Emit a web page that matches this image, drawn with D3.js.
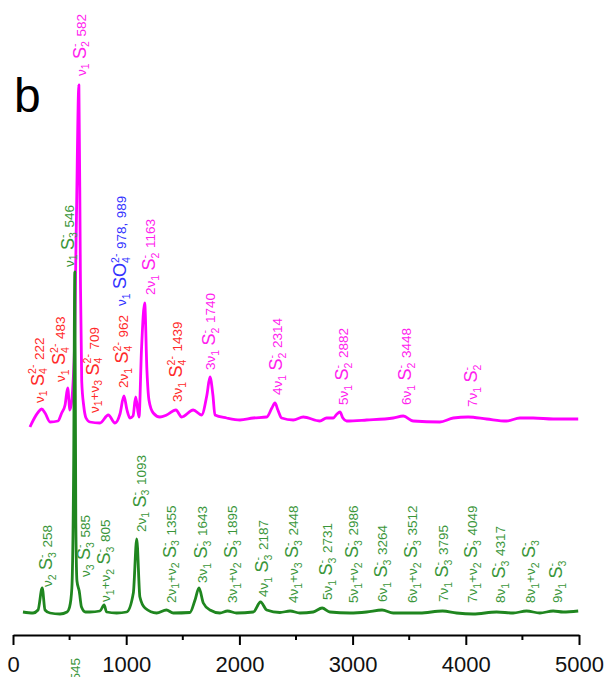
<!DOCTYPE html>
<html>
<head>
<meta charset="utf-8">
<script src="https://cdn.jsdelivr.net/npm/d3@7/dist/d3.min.js"></script>
<style>
  body { margin: 0; background: #fff; }
  svg { display: block; font-family: "Liberation Sans", Arial, sans-serif; }
</style>
</head>
<body>
<div id="chart"></div>
<script>
  // axis ticks
  var xTicks = [0, 1000, 2000, 3000, 4000, 5000];
  var xMinor = [500, 1500, 2500, 3500, 4500];

  // spectrum of the magenta sample is stacked above the green one
  var magOffset = 1920;

  // green spectrum (S3- dominated), raman shift / intensity
  var greenShift = [88, 177, 221, 258, 283, 327, 415, 477, 500, 520, 536, 546, 555, 565, 585, 605, 640,
    680, 768, 805, 827, 916, 1004, 1063, 1093, 1121, 1166, 1269, 1355, 1416, 1563, 1608, 1643, 1681,
    1740, 1828, 1895, 1975, 2122, 2187, 2241, 2358, 2448, 2534, 2652, 2731, 2800, 2977, 3124, 3260,
    3359, 3594, 3795, 3918, 4065, 4272, 4418, 4537, 4654, 4772, 4860, 4993];
  var greenInt = [10, 0, 30, 250, 30, 0, -10, 10, 60, 250, 1500, 3410, 900, 320, 220, 60, 10,
    10, 20, 80, 10, 0, 10, 200, 740, 160, 50, 0, 30, 0, 5, 130, 250, 100,
    30, 0, 20, 0, 10, 110, 30, 5, 20, 0, 10, 50, 10, 0, 10, 30,
    0, 0, 20, 0, -10, 10, 0, 20, 0, 20, 10, 20];

  // magenta spectrum (S2- / S4 2- dominated)
  var magShift = [150, 180, 224, 253, 283, 327, 397, 430, 460, 483, 503, 540, 560, 582, 595, 607, 625, 645,
    680, 768, 842, 901, 945, 980, 1007, 1033, 1060, 1084, 1113, 1135, 1163, 1183, 1201, 1239, 1298,
    1357, 1439, 1490, 1592, 1666, 1713, 1740, 1766, 1784, 1887, 2005, 2122, 2241, 2287, 2314, 2340,
    2373, 2476, 2564, 2711, 2770, 2829, 2862, 2888, 2914, 2947, 3124, 3359, 3448, 3535, 3771, 3889,
    4021, 4184, 4360, 4478, 4595, 4772, 4993];
  var magInt = [-60, 10, 90, 120, 80, -10, 0, 80, 160, 330, 110, 600, 2000, 3360, 1500, 400, 150, 30,
    -10, -20, 60, -20, 70, 250, 110, 30, 50, 240, 40, 710, 1180, 510, 210, 80, 40,
    60, 110, 40, 110, 60, 260, 440, 260, 60, 30, 10, 30, 40, 130, 180, 110,
    30, 10, 40, 0, 30, 30, 70, 90, 30, 0, 10, 30, 50, 0, -10, 30,
    40, 20, 0, 30, 30, 20, 20];

  // peak labels: text, species, x anchor (cm-1), level of label foot (intensity in its own layer)
  var labelText = [
    "ν_1 S_4^2- 222", "ν_1 S_4^2- 483", "ν_1 S_2^- 582", "ν_1+ν_3 S_4^2- 709", "2ν_1 S_4^2- 962",
    "ν_1 SO_4^2- 978, 989", "2ν_1 S_2^- 1163", "3ν_1 S_4^2- 1439", "3ν_1 S_2^- 1740", "4ν_1 S_2^- 2314",
    "5ν_1 S_2^- 2882", "6ν_1 S_2^- 3448", "7ν_1 S_2^-",
    "ν_1 S_3^- 546", "ν_2 S_3^- 258", "ν_3 S_3^- 585", "ν_1+ν_2 S_3^- 805", "2ν_1 S_3^- 1093",
    "2ν_1+ν_2 S_3^- 1355", "3ν_1 S_3^- 1643", "3ν_1+ν_2 S_3^- 1895", "4ν_1 S_3^- 2187",
    "4ν_1+ν_3 S_3^- 2448", "5ν_1 S_3^- 2731", "5ν_1+ν_2 S_3^- 2986", "6ν_1 S_3^- 3264",
    "6ν_1+ν_2 S_3^- 3512", "7ν_1 S_3^- 3795", "7ν_1+ν_2 S_3^- 4049", "8ν_1 S_3^- 4317",
    "8ν_1+ν_2 S_3^-", "9ν_1 S_3^-", "ν_1 S_3^- 545"];
  var labelSpecies = ["S4", "S4", "S2", "S4", "S4", "SO4", "S2", "S4", "S2", "S2", "S2", "S2", "S2",
    "S3", "S3", "S3", "S3", "S3", "S3", "S3", "S3", "S3", "S3", "S3", "S3", "S3", "S3", "S3", "S3",
    "S3", "S3", "S3", "S3"];
  var labelShift = [221, 415, 592, 707, 971, 954, 1210, 1448, 1740, 2332, 2914, 3471, 4054,
    486, 300, 636, 812, 1122, 1387, 1669, 1934, 2208, 2473, 2773, 3003, 3259, 3524, 3798, 4054,
    4301, 4566, 4804, 539];
  var labelLevel = [180, 390, 3450, 80, 330, 1150, 1260, 190, 510, 260, 160, 160, 140,
    3460, 260, 360, 110, 810, 100, 300, 100, 160, 100, 130, 100, 110, 100, 110, 100,
    100, 100, 100, -1070];

  var colors = { S4: "#ff2a2a", S2: "#ff22ee", SO4: "#3333ff", S3: "#3a963a" };

  var W = 608, H = 677;
  var svg = d3.select("#chart").append("svg")
    .attr("width", W)
    .attr("height", H)

  var x = d3.scaleLinear().domain([0, 5000]).range([13, 579]);
  var y = d3.scaleLinear().domain([0, 6000]).range([613, 13]);

  // panel letter
  svg.append("text")
    .attr("x", 14)
    .attr("y", 112)
    .attr("font-size", 48)
    .attr("fill", "#000")
    .text("b");

  var line = d3.line()
    .x(function(d){ return x(d[0]) })
    .y(function(d){ return y(d[1]) })
    .curve(d3.curveMonotoneX);

  var magData = magShift.map(function(s, i){ return [s, magInt[i] + magOffset] });
  var greenData = greenShift.map(function(s, i){ return [s, greenInt[i]] });

  svg.append("path")
    .datum(magData)
    .attr("d", line)
    .attr("fill", "none")
    .attr("stroke", "#ff00ff")
    .attr("stroke-width", 2.8)
    .attr("stroke-linejoin", "round");

  svg.append("path")
    .datum(greenData)
    .attr("d", line)
    .attr("fill", "none")
    .attr("stroke", "#1f861f")
    .attr("stroke-width", 2.8)
    .attr("stroke-linejoin", "round");

  // ---- labels ----
  var baseSize = 13.5, bigSize = 18, smallSize = 10.5, gap = 4.5;

  function textW(s, size){
    var w = 0;
    for (var k = 0; k < s.length; k++) w += (s[k] === "-" ? 0.333 : 0.556);
    return w * size;
  }

  function addLabel(g, str){
    var t = g.append("text").attr("text-anchor", "start");
    var cur = 0; // current baseline shift
    var lastSubW = 0;
    var pendingGap = 0;
    var i = 0;
    function span(txt, size, shift, dx){
      var s = t.append("tspan").attr("font-size", size).attr("dy", shift - cur).text(txt);
      var d = (dx || 0) + pendingGap;
      if (d) s.attr("dx", d);
      pendingGap = 0;
      cur = shift;
    }
    while (i < str.length){
      var c = str[i];
      if (c === " "){
        pendingGap += gap;
        i++;
      } else if (c === "_"){
        var sub = str[i + 1];
        span(sub, smallSize, 3.5);
        lastSubW = textW(sub, smallSize);
        i += 2;
      } else if (c === "^"){
        var j = i + 1, sup = "";
        while (j < str.length && str[j] !== " "){ sup += str[j]; j++ }
        var stacked = str[i - 2] === "_";
        span(sup, smallSize, -7.5, stacked ? -lastSubW : 0);
        // keep the stack as wide as its widest part
        if (stacked) pendingGap += Math.max(0, lastSubW - textW(sup, smallSize));
        i = j;
      } else if (c === "S" || c === "O"){
        span(c, bigSize, 0);
        i++;
      } else {
        var txt = "";
        while (i < str.length && "_^SO ".indexOf(str[i]) < 0){ txt += str[i]; i++ }
        span(txt, baseSize, 0);
      }
    }
  }

  labelText.forEach(function(str, i){
    var sp = labelSpecies[i];
    var off = sp === "S3" ? 0 : magOffset;
    var g = svg.append("g")
      .attr("transform", "translate(" + (x(labelShift[i]) + 5.5) + "," + y(labelLevel[i] + off) + ") rotate(-90)")
      .attr("fill", colors[sp]);
    addLabel(g, str);
  });

  // ---- x axis ----
  var axisY = 635;
  var axis = d3.axisBottom(x).tickValues(xTicks).tickFormat(d3.format("d"))
    .tickSize(10).tickSizeOuter(0).tickPadding(11);
  var ax = svg.append("g")
    .attr("transform", "translate(0," + axisY + ")")
    .call(axis);
  ax.select(".domain").attr("stroke", "#000").attr("stroke-width", 2);
  ax.selectAll(".tick line").attr("stroke", "#000").attr("stroke-width", 2);
  ax.selectAll(".tick text")
    .attr("font-size", 22)
    .attr("font-family", "Liberation Sans, Arial, sans-serif")
    .attr("fill", "#111");

  ax.selectAll(".minor")
    .data(xMinor)
    .enter()
    .append("line")
    .attr("class", "minor")
    .attr("x1", function(d){ return x(d) })
    .attr("x2", function(d){ return x(d) })
    .attr("y1", 0)
    .attr("y2", 5)
    .attr("stroke", "#000")
    .attr("stroke-width", 2);
</script>
</body>
</html>
